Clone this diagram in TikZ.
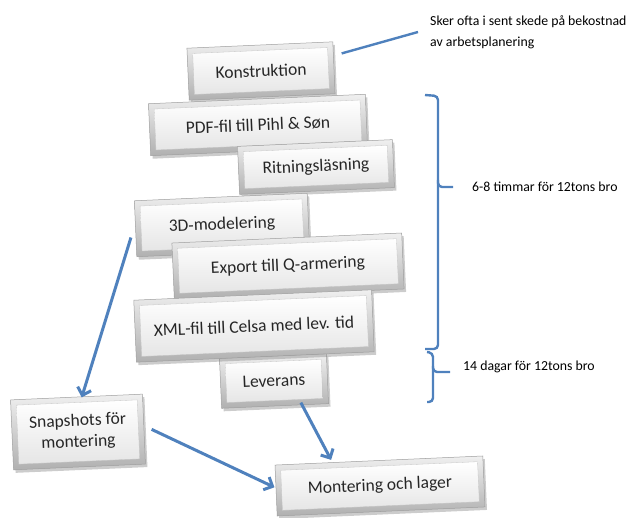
\documentclass[tikz,border=0pt]{standalone}
\usepackage{fontspec}
\setmainfont{Carlito}
\usetikzlibrary{shadows,arrows.meta}
\definecolor{oblue}{HTML}{4F81BD}
\definecolor{boxtext}{HTML}{262626}
\newcommand\bevbox[5]{%
  \node[boxframe, minimum width=#3pt, minimum height=#4pt] (#1-f) at #2 {};
  \node[boxface, minimum width=#3pt-11pt, minimum height=#4pt-11pt] (#1) at #2 {#5};}
\begin{document}
\begin{tikzpicture}[x=1pt,y=-1pt,
  boxframe/.style={rectangle, rotate=2.5, inner sep=0pt,
    top color=gray!12, bottom color=gray!62, draw=gray!75, line width=0.5pt,
    drop shadow={shadow xshift=2pt, shadow yshift=-3pt, opacity=0.4}},
  boxface/.style={rectangle, rotate=2.5, inner sep=1pt,
    top color=white, bottom color=gray!20, draw=gray!45, line width=0.3pt,
    text=boxtext, align=center, font=\fontsize{17.5}{21}\selectfont},
  arr/.style={draw=oblue, line width=3pt, -{Straight Barb[length=7pt,width=14pt]}},
  bracepath/.style={draw=oblue, line width=2.4pt, rounded corners=4pt},
  lbl/.style={font=\fontsize{13.8}{21}\selectfont, align=left, inner sep=0pt, text=black}]
\useasboundingbox (0,0) rectangle (638,518);

% boxes
\bevbox{konst}{(261,71)}{146}{52}{Konstruktion}
\bevbox{pdf}{(258,125)}{217}{52}{PDF-fil till Pihl \& Søn}
\bevbox{ritn}{(316,167)}{155}{48}{Ritningsläsning}
\bevbox{modl}{(222,225)}{173}{56}{3D-modelering}
\bevbox{exp}{(288,266)}{230}{56}{Export till Q-armering}
\bevbox{lev}{(274,381)}{107}{50}{Leverans}
\bevbox{xml}{(254,326)}{238}{62}{XML-fil till Celsa med lev. tid}
\bevbox{snap}{(78,432)}{132}{70}{Snapshots för\\montering}
\bevbox{mont}{(380,486)}{208}{51}{Montering och lager}

% callout
\node[lbl, anchor=west] (note) at (430,32) {Sker ofta i sent skede på bekostnad\\av arbetsplanering};
\draw[draw=oblue, line width=2.4pt] ([shift={(14,6)}]konst.north east) -- ([xshift=-12]note.west);

% braces
\draw[bracepath] (425,95) -- (438,96) -- (438,187) -- (453,187);
\draw[bracepath] (438,180) -- (438,349) -- (425,349);
\draw[bracepath] (427,352) -- (433,353) -- (433,372) -- (450,372);
\draw[bracepath] (433,366) -- (433,402) -- (427,402);
\node[lbl, anchor=west] (t1) at (472,187) {6-8 timmar för 12tons bro};
\node[lbl, anchor=west] (t2) at (463,367) {14 dagar för 12tons bro};

% arrows
\draw[arr] ([shift={(-10,9)}]modl.west) -- ([shift={(5,-5)}]snap.north);
\draw[arr] ([xshift=13]snap.east) -- ([shift={(-7,-3)}]mont.west);
\draw[arr] ([shift={(26,2)}]lev.south) -- ([shift={(-48,-6)}]mont.north);
\end{tikzpicture}
\end{document}
